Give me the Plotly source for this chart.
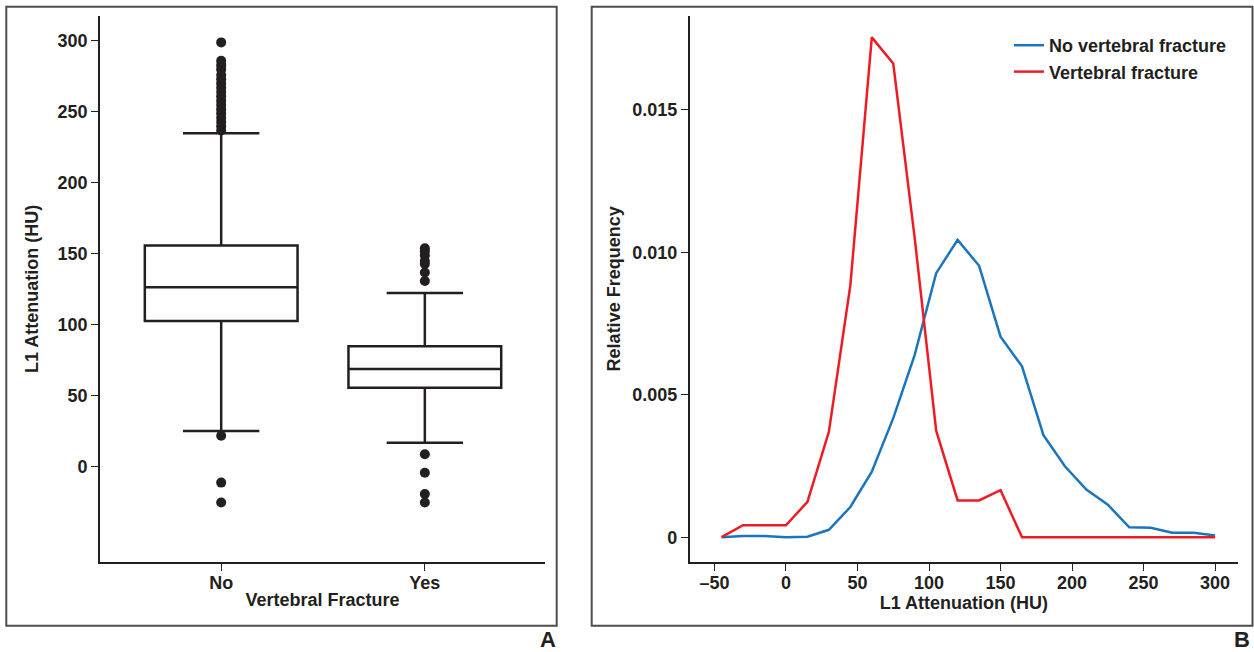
import plotly.graph_objects as go

# ---- data ----
groups = ["No", "Yes"]
box_q1 = [102.8, 55.8]
box_median = [126.5, 69.0]
box_q3 = [156.0, 85.0]
box_lower = [25.4, 17.0]
box_upper = [235.0, 122.5]

no_outliers = [299, 286, 283, 280, 276, 273, 270, 267, 264, 261, 258, 255, 252,
               249, 246, 243, 240, 237, 22, -11, -25]
yes_outliers = [154, 152, 149, 145, 143, 137, 131, 9, -4, -19, -25]

hu_bins = [-45, -30, -15, 0, 15, 30, 45, 60, 75, 90, 105, 120, 135, 150, 165,
           180, 195, 210, 225, 240, 255, 270, 285, 300]
freq_no_fracture = [0.0, 0.00004, 0.00004, 0.0, 0.00002, 0.00026, 0.00106, 0.0023,
                    0.00418, 0.0064, 0.00927, 0.01044, 0.00953, 0.00704, 0.0060,
                    0.00358, 0.00249, 0.00167, 0.00114, 0.00035, 0.00033, 0.00016,
                    0.00016, 0.00006]
freq_fracture = [0.0, 0.00042, 0.00042, 0.00042, 0.00124, 0.0037, 0.00884, 0.01755,
                 0.01663, 0.0105, 0.00374, 0.00129, 0.00129, 0.00165, 0.0, 0.0, 0.0,
                 0.0, 0.0, 0.0, 0.0, 0.0, 0.0, 0.0]

W, H = 1254, 652
FONT = "Liberation Sans"
INK = "#231f20"
BLUE = "#1b75bc"
RED = "#ed1c24"


def fx(p):
    return p / W


def fy(p):
    return 1 - p / H


fig = go.Figure()

# panel A: box plots
for i, g in enumerate(groups):
    fig.add_trace(go.Box(
        x=[g], q1=[box_q1[i]], median=[box_median[i]], q3=[box_q3[i]],
        lowerfence=[box_lower[i]], upperfence=[box_upper[i]],
        width=0.75, whiskerwidth=0.5, boxpoints=False,
        fillcolor="white", line=dict(color=INK, width=2.5),
        showlegend=False, xaxis="x", yaxis="y"))

fig.add_trace(go.Scatter(
    x=["No"] * len(no_outliers) + ["Yes"] * len(yes_outliers),
    y=no_outliers + yes_outliers, mode="markers",
    marker=dict(color=INK, size=10), showlegend=False, xaxis="x", yaxis="y"))

# panel B: relative frequency
fig.add_trace(go.Scatter(x=hu_bins, y=freq_no_fracture, mode="lines",
                         name="No vertebral fracture",
                         line=dict(color=BLUE, width=2.5), xaxis="x2", yaxis="y2"))
fig.add_trace(go.Scatter(x=hu_bins, y=freq_fracture, mode="lines",
                         name="Vertebral fracture",
                         line=dict(color=RED, width=2.5), xaxis="x2", yaxis="y2"))

axis_common = dict(showline=True, linecolor=INK, linewidth=1.8, ticks="outside",
                   ticklen=7, tickwidth=1.2, tickcolor=INK, showgrid=False,
                   zeroline=False, mirror=False,
                   tickfont=dict(family=FONT, size=18, color=INK, weight="bold"),
                   title_font=dict(family=FONT, size=18, color=INK, weight="bold"))

ydom = [fy(561.7), fy(16)]

fig.update_layout(
    width=W, height=H, margin=dict(l=0, r=0, t=0, b=0),
    paper_bgcolor="white", plot_bgcolor="white",
    font=dict(family=FONT, color=INK),
    xaxis=dict(axis_common, domain=[fx(100), fx(545)], type="category",
               range=[-0.595, 1.59], anchor="y", ticklabelstandoff=-3,
               title=dict(text="Vertebral Fracture", standoff=1)),
    yaxis=dict(axis_common, domain=ydom, range=[-66.7, 317.6], anchor="x",
               tickvals=[0, 50, 100, 150, 200, 250, 300],
               title=dict(text="L1 Attenuation (HU)", standoff=14)),
    xaxis2=dict(axis_common, domain=[fx(689.7), fx(1238)], range=[-67.3, 316],
                anchor="y2", ticklabelstandoff=-3,
                tickvals=[-50, 0, 50, 100, 150, 200, 250, 300],
                ticktext=["\u201350", "0", "50", "100", "150", "200", "250", "300"],
                title=dict(text="L1 Attenuation (HU)", standoff=1)),
    yaxis2=dict(axis_common, domain=ydom, range=[-0.00086, 0.0183], anchor="x2",
                tickvals=[0, 0.005, 0.010, 0.015],
                ticktext=["0", "0.005", "0.010", "0.015"],
                title=dict(text="Relative Frequency", standoff=7)),
    legend=dict(x=fx(1009), y=fy(27), xanchor="left", yanchor="top",
                bgcolor="rgba(0,0,0,0)", tracegroupgap=0,
                font=dict(family=FONT, size=18, color=INK, weight="bold")),
    shapes=[
        dict(type="rect", xref="paper", yref="paper", x0=fx(6.3), x1=fx(556.7),
             y0=fy(625.7), y1=fy(6.7), line=dict(color="#4d4d4d", width=2)),
        dict(type="rect", xref="paper", yref="paper", x0=fx(591.7), x1=fx(1252.5),
             y0=fy(625.7), y1=fy(6.7), line=dict(color="#4d4d4d", width=2)),
    ],
    annotations=[
        dict(text="A", xref="paper", yref="paper", x=fx(548), y=fy(639),
             showarrow=False, xanchor="center", yanchor="middle", borderpad=0,
             font=dict(family=FONT, size=22, color=INK, weight="bold")),
        dict(text="B", xref="paper", yref="paper", x=fx(1251), y=fy(639),
             showarrow=False, xanchor="right", yanchor="middle", borderpad=0,
             font=dict(family=FONT, size=22, color=INK, weight="bold")),
    ],
)

# drop the default page margin so the figure sits at the window's corner
fig.write_html("out.html", config={"displayModeBar": False},
               post_script="document.body.style.margin = '0';")
